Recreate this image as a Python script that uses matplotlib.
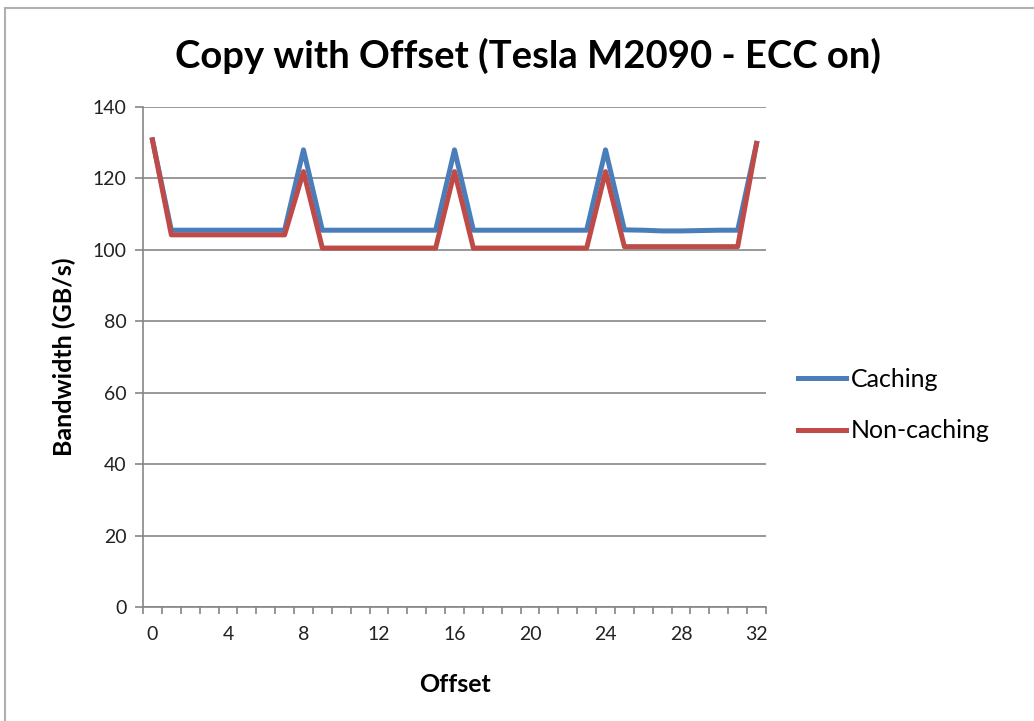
import matplotlib.pyplot as plt
import numpy as np
from matplotlib.patches import Rectangle

offsets = list(range(33))
caching = [130.8, 105.5, 105.5, 105.5, 105.5, 105.5, 105.5, 105.5, 128.0,
           105.5, 105.5, 105.5, 105.5, 105.5, 105.5, 105.5, 128.0,
           105.5, 105.5, 105.5, 105.5, 105.5, 105.5, 105.5, 128.0,
           105.6, 105.5, 105.3, 105.3, 105.4, 105.5, 105.5, 129.8]
non_caching = [130.8, 104.2, 104.2, 104.2, 104.2, 104.2, 104.2, 104.2, 121.9,
               100.5, 100.5, 100.5, 100.5, 100.5, 100.5, 100.5, 121.9,
               100.5, 100.5, 100.5, 100.5, 100.5, 100.5, 100.5, 121.9,
               100.9, 100.9, 100.9, 100.9, 100.9, 100.9, 100.9, 129.8]
x_labels = list(range(0, 33, 4))
y_ticks = list(range(0, 141, 20))

plt.rcParams["font.family"] = ["Lato", "DejaVu Sans"]
grey = "#868686"

fig = plt.figure(figsize=(10.34, 7.21), dpi=100)
fig.patches.append(Rectangle((5 / 1034, -0.1), 1.2, 1 - 8 / 721 + 0.1,
                             transform=fig.transFigure, fill=False,
                             edgecolor="#b0b0b0", linewidth=1.5))
ax = fig.add_axes([143 / 1034, 1 - 607 / 721, (766 - 143) / 1034, 500 / 721])

ax.plot(offsets, caching, color="#4A7EBB", linewidth=3.6, label="Caching")
ax.plot(offsets, non_caching, color="#BE4B48", linewidth=3.6,
        label="Non-caching")

ax.set_xlim(-0.5, 32.5)
ax.set_ylim(0, 140)
ax.set_yticks(y_ticks)
ax.yaxis.grid(True, color=grey, linewidth=1.2)
ax.set_axisbelow(True)

ax.set_xticks(x_labels)
ax.set_xticks(np.arange(-0.5, 33, 1), minor=True)
ax.tick_params(axis="x", which="major", length=0, labelsize=14, pad=14,
               labelcolor="#222222")
ax.tick_params(axis="x", which="minor", length=5, width=1.2, color=grey)
ax.tick_params(axis="y", length=6, width=1.2, color=grey, labelsize=14,
               labelcolor="#222222", pad=6)

for side in ["top", "right"]:
    ax.spines[side].set_visible(False)
for side in ["left", "bottom"]:
    ax.spines[side].set_color(grey)
    ax.spines[side].set_linewidth(1.2)

ax.set_xlabel("Offset", fontsize=18, fontweight="bold", labelpad=21)
ax.set_ylabel("Bandwidth (GB/s)", fontsize=18, fontweight="bold", labelpad=12)
fig.text(528 / 1034, 1 - 56 / 721, "Copy with Offset (Tesla M2090 - ECC on)",
         ha="center", va="center", fontsize=27.5, fontweight="bold")

fig.legend(loc="center left", bbox_to_anchor=(798 / 1034, 1 - 405 / 721),
           bbox_transform=fig.transFigure, frameon=False, borderpad=0,
           borderaxespad=0, fontsize=18, handlelength=1.9,
           handletextpad=0.2, labelspacing=1.15)

fig.savefig("out.png", dpi=100)
